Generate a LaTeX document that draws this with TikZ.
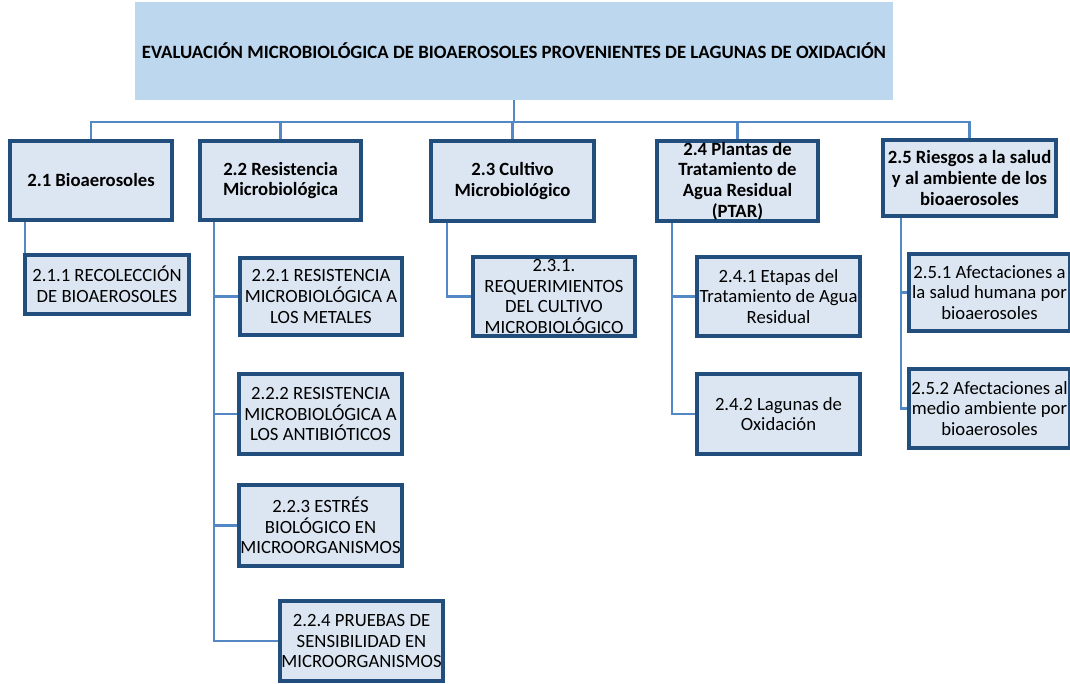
\documentclass[tikz,border=0pt]{standalone}
\usepackage{fontspec}
\setmainfont{Carlito}
\definecolor{conn}{RGB}{84,136,196}
\definecolor{bord}{RGB}{33,78,124}
\definecolor{boxfill}{RGB}{220,230,242}
\definecolor{topfill}{RGB}{189,215,238}
\tikzset{
  box/.style={draw=bord, line width=3.8pt, fill=boxfill, align=center, inner sep=1pt,
    font=\fontsize{18.7}{20.7}\selectfont, text=black},
  hbox/.style={box, font=\fontsize{18.7}{20.7}\selectfont\bfseries},
  topbox/.style={fill=topfill, align=center, font=\fontsize{18.8}{21}\selectfont\bfseries},
  link/.style={draw=conn, line width=2.7pt},
}
\begin{document}
\begin{tikzpicture}[x=1pt,y=-1pt]
\useasboundingbox (0,0) rectangle (1070,684);
% top
\node[topbox, minimum width=758pt, minimum height=98pt] (top) at (514,51) {EVALUACIÓN MICROBIOLÓGICA DE BIOAEROSOLES PROVENIENTES DE LAGUNAS DE OXIDACIÓN};
% level 1
\node[hbox, minimum width=162pt, minimum height=79pt] (b21) at (91,180.5) {2.1 Bioaerosoles};
\node[hbox, minimum width=161pt, minimum height=79pt] (b22) at (280.5,180.5) {2.2 Resistencia\\Microbiológica};
\node[hbox, minimum width=163pt, minimum height=80pt] (b23) at (512.5,181) {2.3 Cultivo\\Microbiológico};
\node[hbox, minimum width=161pt, minimum height=80pt] (b24) at (737.5,181) {2.4 Plantas de\\Tratamiento de\\Agua Residual\\(PTAR)};
\node[hbox, minimum width=173pt, minimum height=76pt] (b25) at (969.5,178) {2.5 Riesgos a la salud\\y al ambiente de los\\bioaerosoles};
% level 2
\node[box, minimum width=164pt, minimum height=59pt] (b211) at (107,284.5) {2.1.1 RECOLECCIÓN\\DE BIOAEROSOLES};
\node[box, minimum width=162pt, minimum height=77pt] (b221) at (321,296.5) {2.2.1 RESISTENCIA\\MICROBIOLÓGICA A\\LOS METALES};
\node[box, minimum width=163pt, minimum height=80pt] (b222) at (320.5,414) {2.2.2 RESISTENCIA\\MICROBIOLÓGICA A\\LOS ANTIBIÓTICOS};
\node[box, minimum width=163pt, minimum height=81pt] (b223) at (320.5,525.5) {2.2.3 ESTRÉS\\BIOLÓGICO EN\\MICROORGANISMOS};
\node[box, minimum width=163pt, minimum height=80pt] (b224) at (361.5,641) {2.2.4 PRUEBAS DE\\SENSIBILIDAD EN\\MICROORGANISMOS};
\node[box, minimum width=162pt, minimum height=79pt] (b231) at (554,296.5) {2.3.1.\\REQUERIMIENTOS\\DEL CULTIVO\\MICROBIOLÓGICO};
\node[box, minimum width=163pt, minimum height=79pt] (b241) at (778.5,296.5) {2.4.1 Etapas del\\Tratamiento de Agua\\Residual};
\node[box, minimum width=163pt, minimum height=80pt] (b242) at (778.5,414) {2.4.2 Lagunas de\\Oxidación};
\node[box, minimum width=161pt, minimum height=77pt] (b251) at (989.5,292.5) {2.5.1 Afectaciones a\\la salud humana por\\bioaerosoles};
\node[box, minimum width=161pt, minimum height=79pt] (b252) at (989.5,408.5) {2.5.2 Afectaciones al\\medio ambiente por\\bioaerosoles};
% bus coordinates
\coordinate (bus) at (514,122);
\coordinate (s22) at (214,222);
\coordinate (s23) at (447,223);
\coordinate (s24) at (672,223);
\coordinate (s25) at (901,218);
\coordinate (s21) at (25,222);
% connectors
\draw[link] (top.south) -- (bus);
\draw[link] (b21.north) |- (bus) -| (b25.north);
\draw[link] (b22.north) -- (b22.north |- bus);
\draw[link] (b23.north) -- (b23.north |- bus);
\draw[link] (b24.north) -- (b24.north |- bus);
\draw[link] (s21) -- (s21 |- b211.north);
\draw[link] (s22) |- (b224.west);
\draw[link] (s22 |- b221.west) -- (b221.west);
\draw[link] (s22 |- b222.west) -- (b222.west);
\draw[link] (s22 |- b223.west) -- (b223.west);
\draw[link] (s23) |- (b231.west);
\draw[link] (s24) |- (b242.west);
\draw[link] (s24 |- b241.west) -- (b241.west);
\draw[link] (s25) |- (b252.west);
\draw[link] (s25 |- b251.west) -- (b251.west);
\end{tikzpicture}
\end{document}
